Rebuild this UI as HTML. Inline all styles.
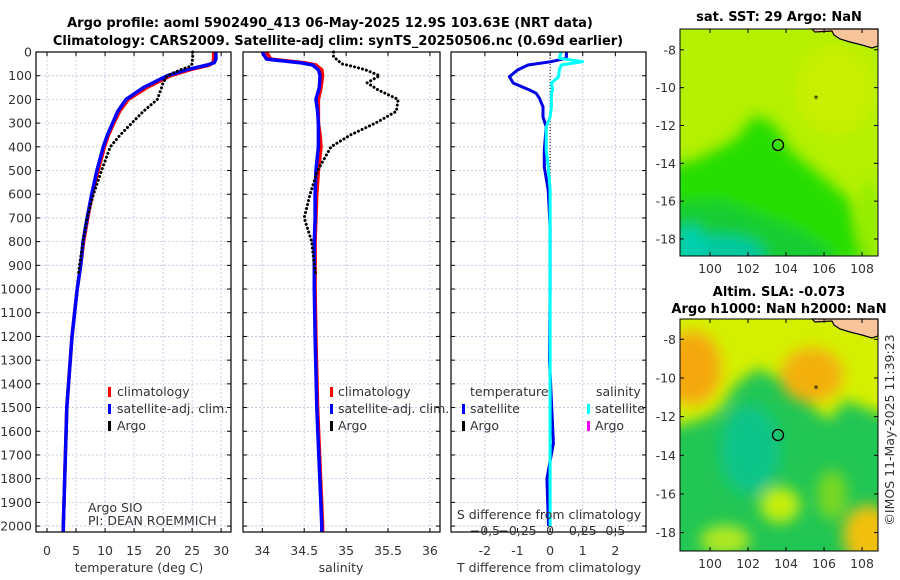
<!DOCTYPE html>
<html><head><meta charset="utf-8">
<style>
body{margin:0;background:#fff;}
svg{display:block;font-family:"DejaVu Sans","Liberation Sans",sans-serif;}
.t{font-size:12.5px;fill:#333;}
.b{font-size:13px;font-weight:bold;fill:#000;}
.g{stroke:#b8c4e0;stroke-width:0.8;stroke-dasharray:2,2;}
</style></head>
<body>
<svg id="c" width="900" height="580" viewBox="0 0 900 580">
<defs>
<filter id="bl" x="-20%" y="-20%" width="140%" height="140%"><feGaussianBlur stdDeviation="7"/></filter>
<clipPath id="m1c"><rect x="680" y="29" width="198" height="227"/></clipPath>
<clipPath id="m2c"><rect x="680" y="319" width="198" height="232"/></clipPath>
</defs>
<text class="b" x="330" y="27" text-anchor="middle">Argo profile: aoml 5902490_413 06-May-2025 12.9S 103.63E (NRT data)</text>
<text class="b" x="338" y="45" text-anchor="middle">Climatology: CARS2009. Satellite-adj clim: synTS_20250506.nc (0.69d earlier)</text>

<g>
<g clip-path="url(#m1c)">
<rect x="680" y="29" width="198" height="227" fill="#b4f000"/>
<g filter="url(#bl)">
<polygon points="660,170 700,158 735,140 755,115 775,125 790,150 820,175 850,200 860,250 880,260 660,270" fill="#26de00"/>
<polygon points="660,205 720,200 760,215 800,230 830,250 840,270 660,270" fill="#18cc30"/>
<ellipse cx="720" cy="255" rx="45" ry="20" fill="#00c8a0"/>
<ellipse cx="690" cy="245" rx="15" ry="20" fill="#00d0b0"/>
<ellipse cx="835" cy="90" rx="40" ry="45" fill="#c8f000"/>
<ellipse cx="870" cy="220" rx="10" ry="40" fill="#90ee00"/>
</g>
</g>
<polygon points="812,29 878,29 878,46 872,48 862,45 850,42 840,39 834,35 832,31 815,32" fill="#f8c49a" stroke="#000" stroke-width="1.2"/>
<circle cx="778" cy="145" r="5.5" fill="none" stroke="#000" stroke-width="1.3"/>
<text x="816" y="102" font-size="10" text-anchor="middle">*</text>
<rect x="680" y="29" width="198" height="227" fill="none" stroke="#000" stroke-width="1"/>
<text class="b" x="779" y="21" text-anchor="middle">sat. SST: 29 Argo: NaN</text>
</g>

<g>
<g clip-path="url(#m2c)">
<rect x="680" y="319" width="198" height="232" fill="#22c654"/>
<g filter="url(#bl)">
<polygon points="660,300 900,300 900,420 870,410 845,400 830,420 815,410 800,395 780,380 758,368 735,385 720,410 700,420 660,430" fill="#d4f000"/>
<ellipse cx="692" cy="368" rx="30" ry="38" fill="#f4a810"/>
<ellipse cx="812" cy="375" rx="32" ry="28" fill="#f3b010"/>
<ellipse cx="750" cy="450" rx="30" ry="45" fill="#10c488"/>
<ellipse cx="780" cy="505" rx="20" ry="18" fill="#c4ee10"/>
<ellipse cx="725" cy="540" rx="25" ry="15" fill="#b0e820"/>
<ellipse cx="868" cy="535" rx="25" ry="30" fill="#f0c010"/>
<ellipse cx="832" cy="495" rx="15" ry="25" fill="#78d820"/>
</g>
</g>
<polygon points="812,319 878,319 878,336 872,338 862,335 850,332 840,329 834,325 832,321 815,322" fill="#f8c49a" stroke="#000" stroke-width="1.2"/>
<circle cx="778" cy="435" r="5.5" fill="none" stroke="#000" stroke-width="1.3"/>
<text x="816" y="392" font-size="10" text-anchor="middle">*</text>
<rect x="680" y="319" width="198" height="232" fill="none" stroke="#000" stroke-width="1"/>
<text class="b" x="779" y="296" text-anchor="middle">Altim. SLA: -0.073</text>
<text class="b" x="779" y="313" text-anchor="middle">Argo h1000: NaN h2000: NaN</text>
</g>
<text class="t" transform="translate(894,430) rotate(-90)" text-anchor="middle">©IMOS 11-May-2025 11:39:23</text>
</svg>
<script>
const depthClim=[0,30,45,55,75,100,150,200,250,300,350,400,500,600,700,800,900,1000,1200,1500,2000,2025];
const tempSat=[29.1,29.1,28.8,27.6,24,20.7,16.6,13.6,12.2,11.3,10.4,9.7,8.6,7.7,6.9,6.2,5.8,5.2,4.3,3.4,2.8,2.8];
const tempClim=[28.7,28.7,28.6,28,24.6,21.3,17.2,14.0,12.5,11.5,10.6,9.9,8.8,7.8,7.0,6.3,5.8,5.2,4.3,3.4,2.8,2.8];
const depthArgo=[0,20,50,60,75,100,130,160,200,250,300,350,400,500,600,700,800,900,940];
const tempArgo=[25.1,25.1,25,24.7,23,20.7,20,19.6,19,16.6,14.6,12.6,10.9,9.4,8,6.9,6.2,5.6,5.4];
const salArgo=[34.85,34.85,34.95,35.07,35.23,35.4,35.25,35.38,35.62,35.6,35.35,35.05,34.82,34.66,34.57,34.5,34.59,34.62,34.64];
const salSat=[34.0,34.05,34.45,34.6,34.67,34.69,34.68,34.64,34.66,34.67,34.67,34.67,34.64,34.63,34.63,34.62,34.62,34.62,34.63,34.65,34.71,34.71];
const salClim=[34.05,34.1,34.5,34.64,34.71,34.72,34.7,34.67,34.67,34.67,34.69,34.7,34.67,34.65,34.64,34.63,34.63,34.63,34.64,34.66,34.72,34.72];
const depthDiff=[0,26,41,55,76,104,131,160,174,195,231,274,316,413,485,582,738,1000,1300,1650,1800,2000];
const tDiffSat=[0.5,0.5,0.03,-0.68,-1,-1.25,-1.13,-0.64,-0.43,-0.33,-0.22,-0.22,-0.12,-0.18,-0.18,-0.06,0,0,-0.02,0.1,-0.1,-0.05];
const sDiffSat=[0.085,0.07,0.25,0.085,0.07,0.065,0.01,0.02,0.01,0.01,0.01,0,-0.03,-0.03,-0.015,0,0,0,0,0,0,0];
const depthTicks=[0,100,200,300,400,500,600,700,800,900,1000,1100,1200,1300,1400,1500,1600,1700,1800,1900,2000];
const tempTicks=[0,5,10,15,20,25,30];
const salTicks=[34,34.5,35,35.5,36];
const tdTicks=[-2,-1,0,1,2];
const sdTicks=[-0.5,-0.25,0,0.25,0.5];
const lonTicks=[100,102,104,106,108];
const latTicks=[-8,-10,-12,-14,-16,-18];

const svg=document.getElementById('c');const NS='http://www.w3.org/2000/svg';
function mk(t,a,p){const e=document.createElementNS(NS,t);for(const k in a)e.setAttribute(k,a[k]);(p||svg).appendChild(e);return e;}
const Y0=52,Y1=532;
const yD=d=>Y0+d*(Y1-Y0)/2025;
function lin(d0,d1,r0,r1){return v=>r0+(v-d0)*(r1-r0)/(d1-d0);}
const xT=lin(-1.9,31.7,36,231), xS=lin(33.77,36.12,243,440), xTD=lin(-3.04,2.94,451,646), xSD=v=>xTD(v*4);

function panel(name,x0,x1,xs,ticks,fmt,yLabels){
  const g=mk('g',{});
  
  
  depthTicks.forEach(d=>{mk('line',{x1:x0,x2:x1,y1:yD(d),y2:yD(d),class:'g'},g);
    mk('line',{x1:x0,x2:x0+4,y1:yD(d),y2:yD(d),stroke:'#000'},g);mk('line',{x1:x1-4,x2:x1,y1:yD(d),y2:yD(d),stroke:'#000'},g);
    if(yLabels){const t=mk('text',{x:x0-4,y:yD(d)+4.5,'text-anchor':'end',class:'t'},g);t.textContent=d;
      
      }});
  ticks.forEach(v=>{const x=xs(v);mk('line',{x1:x,x2:x,y1:Y0,y2:Y1,class:'g'},g);
    mk('line',{x1:x,x2:x,y1:Y1,y2:Y1-4,stroke:'#000'},g);mk('line',{x1:x,x2:x,y1:Y0,y2:Y0+4,stroke:'#000'},g);
    const t=mk('text',{x:x,y:555,'text-anchor':'middle',class:'t'},g);t.textContent=fmt(v);
    
    });
  return g;
}
function line(g,xs,vals,deps,col,w,dash,name){
  const pts=vals.map((v,i)=>xs(v).toFixed(1)+','+yD(deps[i]).toFixed(1)).join(' ');
  const p=mk('polyline',{points:pts,fill:'none',stroke:col,'stroke-width':w,'stroke-linejoin':'round'},g);
  if(dash){p.setAttribute('stroke-dasharray',dash);p.setAttribute('stroke-linecap','round');}
  
  
}
function frame(g,x0,x1){mk('rect',{x:x0,y:Y0,width:x1-x0,height:Y1-Y0,fill:'none',stroke:'#000','stroke-width':1.2},g);}
function txt(g,x,y,s,name,anchor,size){const t=mk('text',{x:x,y:y,class:'t','text-anchor':anchor||'start'},g);if(size)t.setAttribute('font-size',size);t.textContent=s;
  
  return t;}
function legbar(g,x,y,c){mk('rect',{x:x,y:y-9,width:3,height:10,fill:c},g);}

let g=panel('temperature-panel',36,231,xT,tempTicks,v=>v,true);
line(g,xT,tempClim,depthClim,'#f00',3.5,null,'temp-climatology-line');
line(g,xT,tempSat,depthClim,'#00f',3.5,null,'temp-satellite-line');
line(g,xT,tempArgo,depthArgo,'#000',3,'0.1,4','temp-argo-line');
frame(g,36,231);
legbar(g,108,396,'#f00');txt(g,117,396,'climatology','legend-climatology');
legbar(g,108,413,'#00f');txt(g,117,413,'satellite-adj. clim.','legend-satellite-adj');
legbar(g,108,430,'#000');txt(g,117,430,'Argo','legend-argo');
txt(g,88,512,'Argo SIO','argo-institution',null,'10.5');
txt(g,88,525,'PI: DEAN ROEMMICH','pi-name',null,'10.5');
txt(g,139,572,'temperature (deg C)','x-axis-title-temperature','middle');

g=panel('salinity-panel',243,440,xS,salTicks,v=>v,false);
line(g,xS,salClim,depthClim,'#f00',3.5,null,'sal-climatology-line');
line(g,xS,salSat,depthClim,'#00f',3.5,null,'sal-satellite-line');
line(g,xS,salArgo,depthArgo,'#000',3,'0.1,4','sal-argo-line');
frame(g,243,440);
legbar(g,330,396,'#f00');txt(g,338,396,'climatology','legend-climatology');
legbar(g,330,413,'#00f');txt(g,338,413,'satellite-adj. clim.','legend-satellite-adj');
legbar(g,330,430,'#000');txt(g,338,430,'Argo','legend-argo');
txt(g,341,572,'salinity','x-axis-title-salinity','middle');

g=panel('difference-panel',451,646,xTD,tdTicks,v=>v,false);
mk('line',{x1:xTD(0),x2:xTD(0),y1:yD(0),y2:yD(940),stroke:'#000','stroke-width':1,'stroke-dasharray':'1,2'},g);
line(g,xTD,tDiffSat,depthDiff,'#0000e0',3,null,'tdiff-satellite-line');
line(g,xSD,sDiffSat,depthDiff,'#00ffff',3,null,'sdiff-satellite-line');
frame(g,451,646);
txt(g,470,396,'temperature','legend-temperature-header');
txt(g,596,396,'salinity','legend-salinity-header');
legbar(g,462,413,'#00f');txt(g,470,413,'satellite','legend-t-satellite');
legbar(g,462,430,'#000');txt(g,470,430,'Argo','legend-t-argo');
legbar(g,587,413,'#00ffff');txt(g,595,413,'satellite','legend-s-satellite');
legbar(g,587,430,'#f0f');txt(g,595,430,'Argo','legend-s-argo');
txt(g,549,519,'S difference from climatology','s-axis-title','middle');
sdTicks.forEach(v=>{txt(g,xSD(v),535,String(v).replace('.',',').replace('-','\u2212'),'s-tick-label','middle');});
txt(g,549,572,'T difference from climatology','x-axis-title-tdiff','middle');

function mapAxes(name,top,bot,latTop,latBot){
  const g=mk('g',{});
  
  
  const xL=lin(98.42,108.84,680,878), yL=lin(latTop,latBot,top,bot);
  lonTicks.forEach(v=>{const x=xL(v);mk('line',{x1:x,x2:x,y1:bot,y2:bot-4,stroke:'#000'},g);mk('line',{x1:x,x2:x,y1:top,y2:top+4,stroke:'#000'},g);
    txt(g,x,bot+17,v,'lon-tick-label','middle');});
  latTicks.forEach(v=>{const y=yL(v);mk('line',{x1:680,x2:684,y1:y,y2:y,stroke:'#000'},g);mk('line',{x1:874,x2:878,y1:y,y2:y,stroke:'#000'},g);
    txt(g,676,y+4.5,v,'lat-tick-label','end');});
}
mapAxes('sst-map-axes',29,256,-6.9,-18.9);
mapAxes('sla-map-axes',319,551,-6.95,-18.95);
</script>
</body></html>
